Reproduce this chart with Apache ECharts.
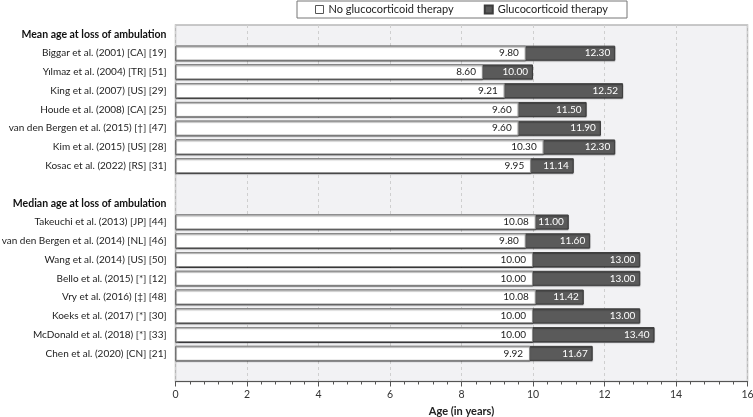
<!DOCTYPE html>
<html><head><meta charset="utf-8">
<script src="https://cdn.jsdelivr.net/npm/echarts@6/dist/echarts.min.js"></script>
<style>html,body{margin:0;padding:0;background:#fff}#c{width:753px;height:417px}</style>
</head><body><div id="c"></div>
<script>
var categories = [
  'Mean age at loss of ambulation',
  'Biggar et al. (2001) [CA] [19]',
  'Yılmaz et al. (2004) [TR] [51]',
  'King et al. (2007) [US] [29]',
  'Houde et al. (2008) [CA] [25]',
  'van den Bergen et al. (2015) [\u2020] [47]',
  'Kim et al. (2015) [US] [28]',
  'Kosac et al. (2022) [RS] [31]',
  ' ',
  'Median age at loss of ambulation',
  'Takeuchi et al. (2013) [JP] [44]',
  'van den Bergen et al. (2014) [NL] [46]',
  'Wang et al. (2014) [US] [50]',
  'Bello et al. (2015) [*] [12]',
  'Vry et al. (2016) [\u2021] [48]',
  'Koeks et al. (2017) [*] [30]',
  'McDonald et al. (2018) [*] [33]',
  'Chen et al. (2020) [CN] [21]',
  '  '
];
var headers = ['Mean age at loss of ambulation', 'Median age at loss of ambulation'];
var noGC = [null, 9.80, 8.60, 9.21, 9.60, 9.60, 10.30, 9.95, null, null, 10.08, 9.80, 10.00, 10.00, 10.08, 10.00, 10.00, 9.92, null];
var withGC = [null, 12.30, 10.00, 12.52, 11.50, 11.90, 12.30, 11.14, null, null, 11.00, 11.60, 13.00, 13.00, 11.42, 13.00, 13.40, 11.67, null];
var xTicks = [0, 2, 4, 6, 8, 10, 12, 14, 16];

var FONT = 'Lato';
var chart = echarts.init(document.getElementById('c'), null, {renderer: 'canvas'});
chart.setOption({
  animation: false,
  textStyle: {fontFamily: FONT},
  legend: {
    data: [
      {name: 'No glucocorticoid therapy', icon: 'rect', itemStyle: {color: '#fff', borderColor: '#555', borderWidth: 1}},
      {name: 'Glucocorticoid therapy', icon: 'rect'}
    ],
    top: 1, left: 297,
    itemWidth: 8, itemHeight: 8, itemGap: 30,
    padding: [3, 19, 3, 18],
    borderColor: '#777', borderWidth: 1,
    backgroundColor: '#fff',
    textStyle: {fontFamily: FONT, fontSize: 11, color: '#222'}
  },
  grid: {
    left: 175.5, right: 5.5, top: 25, bottom: 35.5,
    show: true, backgroundColor: '#f2f2f4', borderColor: '#b8b8b8', borderWidth: 1.5,
    containLabel: false, outerBoundsMode: 'none'
  },
  xAxis: {
    type: 'value', min: 0, max: 16, interval: 2,
    name: 'Age (in years)', nameLocation: 'middle', nameGap: 24,
    nameTextStyle: {fontFamily: FONT, fontSize: 11, fontWeight: 'bold', color: '#222'},
    axisLine: {show: true, lineStyle: {color: '#555'}},
    axisTick: {show: true, length: 5, lineStyle: {color: '#555'}},
    minorTick: {show: true, splitNumber: 5, length: 3, lineStyle: {color: '#555'}},
    axisLabel: {fontFamily: FONT, fontSize: 10.5, color: '#333', margin: 8,
      formatter: function (v) { return xTicks.indexOf(v) >= 0 ? String(v) : ''; }},
    splitLine: {show: true, lineStyle: {color: '#cfcfcf', type: [3, 3], width: 1}}
  },
  yAxis: {
    type: 'category', data: categories, inverse: true,
    axisLine: {show: false}, axisTick: {show: false},
    axisLabel: {
      fontFamily: FONT, fontSize: 10, color: '#222', margin: 9,
      formatter: function (v) { return headers.indexOf(v) >= 0 ? '{h|' + v + '}' : v; },
      rich: {h: {fontFamily: FONT, fontSize: 10.5, fontWeight: 'bold', color: '#111'}}
    }
  },
  series: [
    {
      name: 'Glucocorticoid therapy', type: 'bar', data: withGC, barWidth: 15,
      itemStyle: {color: '#5a5a5a', borderColor: '#3c3c3c', borderWidth: 1,
        shadowColor: 'rgba(0,0,0,0.35)', shadowOffsetY: 1, shadowBlur: 1},
      label: {show: true, position: 'insideRight', distance: 5, color: '#fff', fontFamily: FONT, fontSize: 10,
        formatter: function (p) { return p.value == null ? '' : p.value.toFixed(2); }}
    },
    {
      name: 'No glucocorticoid therapy', type: 'bar', data: noGC, barWidth: 15, barGap: '-100%',
      itemStyle: {color: '#fff', borderColor: '#8a8a8a', borderWidth: 1,
        shadowColor: 'rgba(0,0,0,0.35)', shadowOffsetY: 1, shadowBlur: 1},
      label: {show: true, position: 'insideRight', distance: 7, color: '#222', fontFamily: FONT, fontSize: 10,
        formatter: function (p) { return p.value == null ? '' : p.value.toFixed(2); }}
    }
  ]
});
</script></body></html>
